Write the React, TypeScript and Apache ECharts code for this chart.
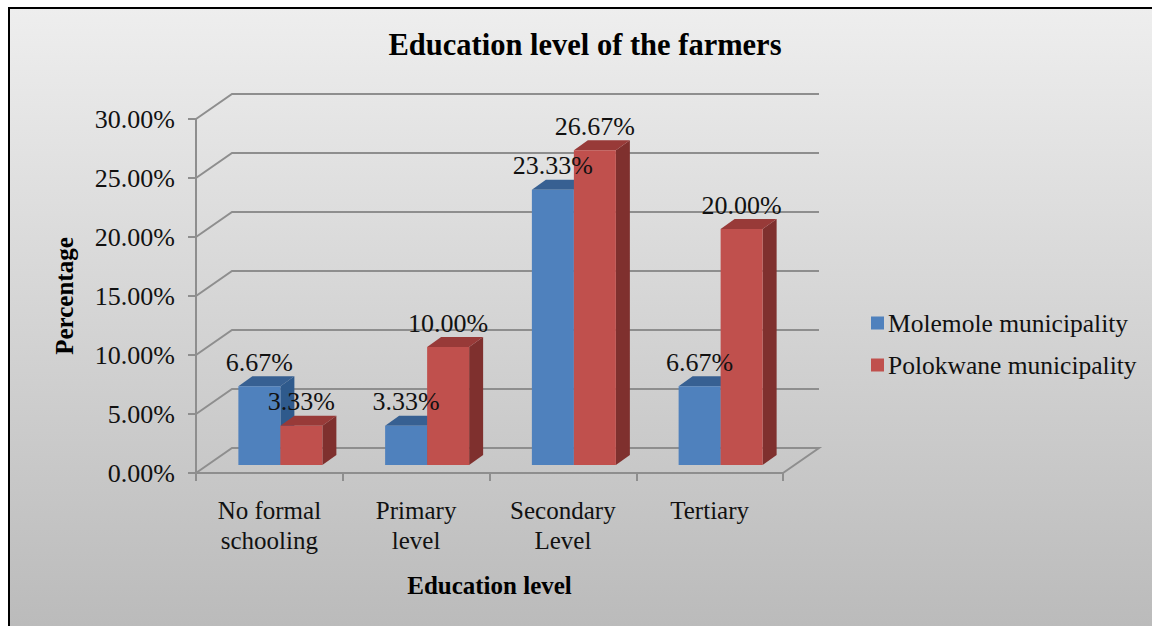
import React, { useEffect, useRef } from "react";
import * as echarts from "echarts";

const categories = ["No formal\nschooling", "Primary\nlevel", "Secondary\nLevel", "Tertiary"];
const molemole = [6.67, 3.33, 23.33, 6.67];
const polokwane = [3.33, 10.0, 26.67, 20.0];
const gridValues = [0, 5, 10, 15, 20, 25, 30];

const FONT = "'Liberation Serif', 'Times New Roman', serif";
const WALL_DX = 36;
const WALL_DY = -25;
const BAR_DX = 11;
const BAR_DY = -8;
const BAR_W = 42;
const DEPTH_DX = 14;
const DEPTH_DY = -10;
const LINE = "#8e8e8e";

function gridItem(params: any, api: any) {
  const v = api.value(1);
  const [, y] = api.coord([0, v]);
  const { x, width } = params.coordSys;
  const pts: number[][] = [
    [x, y],
    [x + WALL_DX, y + WALL_DY],
    [x + width + WALL_DX, y + WALL_DY],
  ];
  if (v === 0) pts.push([x + width, y]);
  return {
    type: "polyline",
    shape: { points: pts },
    style: { stroke: LINE, lineWidth: 2, fill: "none" },
    silent: true,
  };
}

function barItem(offset: number, front: string, top: string, side: string) {
  return (_params: any, api: any) => {
    const i = api.value(0);
    const v = api.value(1);
    const [cx, yTop] = api.coord([i, v]);
    const [, yBase] = api.coord([i, 0]);
    const x0 = cx + BAR_DX + offset * BAR_W;
    const x1 = x0 + BAR_W;
    const y0 = yTop + BAR_DY;
    const y1 = yBase + BAR_DY;
    return {
      type: "group",
      children: [
        {
          type: "polygon",
          shape: { points: [[x1, y0], [x1 + DEPTH_DX, y0 + DEPTH_DY], [x1 + DEPTH_DX, y1 + DEPTH_DY], [x1, y1]] },
          style: { fill: side },
        },
        {
          type: "polygon",
          shape: { points: [[x0, y0], [x0 + DEPTH_DX, y0 + DEPTH_DY], [x1 + DEPTH_DX, y0 + DEPTH_DY], [x1, y0]] },
          style: { fill: top },
        },
        { type: "rect", shape: { x: x0, y: y0, width: BAR_W, height: y1 - y0 }, style: { fill: front } },
      ],
    };
  };
}

function labelItem(offset: number) {
  return (_params: any, api: any) => {
    const i = api.value(0);
    const v = api.value(1);
    const [cx, yTop] = api.coord([i, v]);
    return {
      type: "text",
      x: cx + BAR_DX + offset * BAR_W + BAR_W / 2,
      y: yTop + BAR_DY - 24,
      style: {
        text: v.toFixed(2) + "%",
        font: `26px ${FONT}`,
        fill: "#111",
        align: "center",
        verticalAlign: "middle",
      },
      silent: true,
    };
  };
}

export default function App() {
  const ref = useRef<HTMLDivElement>(null);
  useEffect(() => {
    const chart = echarts.init(ref.current!, undefined, { renderer: "svg" });
    const toPairs = (a: number[]) => a.map((v, i) => [i, v]);
    chart.setOption({
      animation: false,
      backgroundColor: "#ffffff",
      textStyle: { fontFamily: FONT },
      graphic: [
        {
          type: "rect",
          z: -10,
          shape: { x: 9, y: 8, width: 1160, height: 640 },
          style: {
            stroke: "#000",
            lineWidth: 2,
            fill: new echarts.graphic.LinearGradient(0, 0, 0, 1, [
              { offset: 0, color: "#eeeeee" },
              { offset: 1, color: "#b9b9b9" },
            ]),
          },
        },
      ],
      title: {
        text: "Education level of the farmers",
        left: 580,
        top: 24,
        textAlign: "center",
        textStyle: { fontFamily: FONT, fontSize: 30.5, fontWeight: "bold", color: "#000" },
      },
      legend: {
        orient: "vertical",
        left: 866,
        top: 305,
        itemWidth: 13,
        itemHeight: 13,
        itemGap: 16,
        selectedMode: false,
        icon: "rect",
        data: ["Molemole municipality", "Polokwane municipality"],
        textStyle: { fontFamily: FONT, fontSize: 25.5, color: "#111", padding: [0, 0, 0, -1] },
      },
      grid: { left: 196, right: 369, top: 119, bottom: 153 },
      xAxis: {
        type: "category",
        data: categories,
        name: "Education level",
        nameLocation: "middle",
        nameGap: 100,
        nameTextStyle: { fontFamily: FONT, fontSize: 25, fontWeight: "bold", color: "#000" },
        axisLine: { lineStyle: { color: LINE, width: 2 } },
        axisTick: { show: true, length: 8, lineStyle: { color: LINE, width: 2 } },
        axisLabel: { fontFamily: FONT, fontSize: 25, color: "#111", lineHeight: 30, margin: 22 },
      },
      yAxis: {
        type: "value",
        min: 0,
        max: 30,
        interval: 5,
        name: "Percentage",
        nameLocation: "middle",
        nameGap: 119,
        nameTextStyle: { fontFamily: FONT, fontSize: 25, fontWeight: "bold", color: "#000" },
        splitLine: { show: false },
        axisLine: { show: true, lineStyle: { color: LINE, width: 2 } },
        axisTick: { show: true, length: 8, lineStyle: { color: LINE, width: 2 } },
        axisLabel: {
          fontFamily: FONT,
          fontSize: 26,
          color: "#111",
          margin: 21,
          formatter: (v: number) => v.toFixed(2) + "%",
        },
      },
      series: [
        {
          type: "custom",
          z: 1,
          silent: true,
          renderItem: gridItem,
          data: gridValues.map((v) => [0, v]),
          encode: { x: 0, y: 1 },
        },
        {
          type: "custom",
          name: "Molemole municipality",
          z: 2,
          itemStyle: { color: "#4f81bd" },
          renderItem: barItem(-1, "#4f81bd", "#376092", "#2f5a8c"),
          data: toPairs(molemole),
          encode: { x: 0, y: 1 },
        },
        {
          type: "custom",
          name: "Polokwane municipality",
          z: 3,
          itemStyle: { color: "#c0504d" },
          renderItem: barItem(0, "#c0504d", "#983a38", "#7f302e"),
          data: toPairs(polokwane),
          encode: { x: 0, y: 1 },
        },
        {
          type: "custom",
          z: 5,
          silent: true,
          renderItem: labelItem(-1),
          data: toPairs(molemole),
          encode: { x: 0, y: 1 },
        },
        {
          type: "custom",
          z: 5,
          silent: true,
          renderItem: labelItem(0),
          data: toPairs(polokwane),
          encode: { x: 0, y: 1 },
        },
      ],
    });
    return () => chart.dispose();
  }, []);
  return <div ref={ref} style={{ position: "absolute", left: 0, top: 0, width: 1152, height: 626 }} />;
}
